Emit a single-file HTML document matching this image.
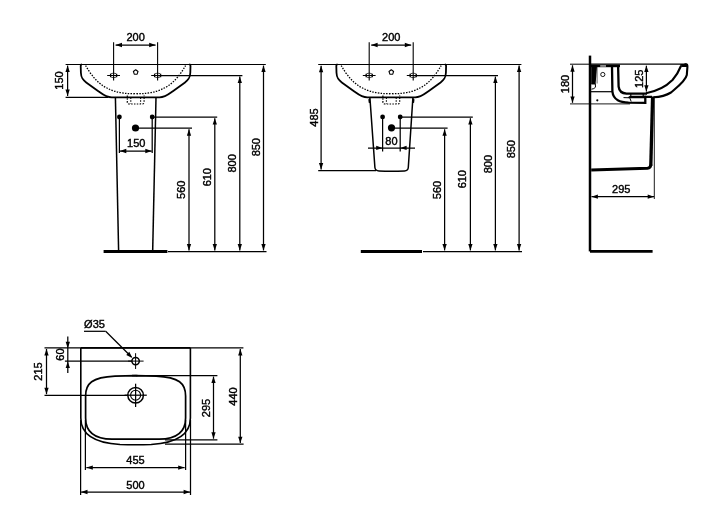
<!DOCTYPE html><html><head><meta charset="utf-8"><style>html,body{margin:0;padding:0;background:#fff;width:720px;height:529px;overflow:hidden}svg{display:block;will-change:transform}</style></head><body><svg width="720" height="529" viewBox="0 0 720 529">
<style>line,path,polygon,rect,circle,ellipse{stroke:#000;fill:none;stroke-linecap:butt}.f{fill:#000;stroke:none}.g{fill:#c8c8c8;stroke:none}.d{stroke-dasharray:1.5 1.3}text{font-family:"Liberation Sans",sans-serif;fill:#000;stroke:#000;stroke-width:0.4}</style>
<path d="M81.90,64.5 Q80.70,64.5 80.70,65.7 L80.90,72.8 C81.10,77.5 82.20,79.5 86.20,82.4 L98.70,91.5 C102.70,94.4 106.20,97.4 111.70,97.4 L159.50,97.4 C165.00,97.4 168.50,94.4 172.50,91.5 L185.00,82.4 C189.00,79.5 190.10,77.5 190.30,72.8 L190.50,65.7 Q190.50,64.5 189.30,64.5" stroke-width="1.8"/>
<path class="d" d="M85.60,65.6 C92.70,77 102.70,94.6 135.60,93.7 C168.50,94.6 178.50,77 185.60,65.6" stroke-width="1.3"/>
<path class="d" d="M127.30,95.5 L127.30,102 Q127.30,104 129.30,104 L142.10,104 Q144.10,104 144.10,102 L144.10,95.5" stroke-width="1.2"/>
<line class="d" x1="130.80" y1="97.5" x2="130.80" y2="103.5" stroke-width="1.1"/>
<line class="d" x1="140.60" y1="97.5" x2="140.60" y2="103.5" stroke-width="1.1"/>
<line x1="107.20" y1="75.50" x2="120.00" y2="75.50" stroke-width="1.0"/>
<line x1="113.60" y1="42.20" x2="113.60" y2="80.60" stroke-width="1.1"/>
<ellipse cx="113.60" cy="75.4" rx="3.3" ry="2.3" stroke-width="0.7"/>
<line x1="110.50" y1="73.70" x2="110.50" y2="77.20" stroke-width="1.1"/>
<line x1="116.70" y1="73.70" x2="116.70" y2="77.20" stroke-width="1.1"/>
<line x1="151.20" y1="75.50" x2="164.00" y2="75.50" stroke-width="1.0"/>
<line x1="157.60" y1="42.20" x2="157.60" y2="80.60" stroke-width="1.1"/>
<ellipse cx="157.60" cy="75.4" rx="3.3" ry="2.3" stroke-width="0.7"/>
<line x1="154.50" y1="73.70" x2="154.50" y2="77.20" stroke-width="1.1"/>
<line x1="160.70" y1="73.70" x2="160.70" y2="77.20" stroke-width="1.1"/>
<polygon points="135.70,69.75 138.03,71.44 137.14,74.18 134.26,74.18 133.37,71.44" stroke-width="1.1" stroke-linejoin="round"/>
<line x1="115.60" y1="45.00" x2="155.60" y2="45.00" stroke-width="1.25"/>
<polygon class="f" points="115.60,45.00 122.00,42.85 122.00,47.15"/>
<polygon class="f" points="155.60,45.00 149.20,47.15 149.20,42.85"/>
<text x="135.60" y="40.70" text-anchor="middle" font-size="11">200</text>
<line x1="65.60" y1="64.50" x2="265.80" y2="64.50" stroke-width="1.1"/>
<line x1="157.60" y1="75.50" x2="242.40" y2="75.50" stroke-width="1.25"/>
<line x1="152.20" y1="117.10" x2="217.20" y2="117.10" stroke-width="1.25"/>
<line x1="135.60" y1="128.20" x2="192.00" y2="128.20" stroke-width="1.25"/>
<line x1="189.00" y1="129.30" x2="189.00" y2="250.40" stroke-width="1.25"/>
<polygon class="f" points="189.00,129.30 191.15,135.70 186.85,135.70"/>
<polygon class="f" points="189.00,250.40 186.85,244.00 191.15,244.00"/>
<line x1="214.80" y1="118.20" x2="214.80" y2="250.40" stroke-width="1.25"/>
<polygon class="f" points="214.80,118.20 216.95,124.60 212.65,124.60"/>
<polygon class="f" points="214.80,250.40 212.65,244.00 216.95,244.00"/>
<line x1="239.80" y1="76.60" x2="239.80" y2="250.40" stroke-width="1.25"/>
<polygon class="f" points="239.80,76.60 241.95,83.00 237.65,83.00"/>
<polygon class="f" points="239.80,250.40 237.65,244.00 241.95,244.00"/>
<line x1="263.50" y1="65.60" x2="263.50" y2="250.40" stroke-width="1.25"/>
<polygon class="f" points="263.50,65.60 265.65,72.00 261.35,72.00"/>
<polygon class="f" points="263.50,250.40 261.35,244.00 265.65,244.00"/>
<text x="0" y="0" transform="translate(185.30,189.80) rotate(-90)" text-anchor="middle" font-size="11">560</text>
<text x="0" y="0" transform="translate(210.70,177.20) rotate(-90)" text-anchor="middle" font-size="11">610</text>
<text x="0" y="0" transform="translate(236.00,163.40) rotate(-90)" text-anchor="middle" font-size="11">800</text>
<text x="0" y="0" transform="translate(259.60,147.20) rotate(-90)" text-anchor="middle" font-size="11">850</text>
<line x1="65.60" y1="97.40" x2="108.00" y2="97.40" stroke-width="1.25"/>
<line x1="67.60" y1="65.60" x2="67.60" y2="96.00" stroke-width="1.25"/>
<polygon class="f" points="67.60,65.60 69.75,72.00 65.45,72.00"/>
<polygon class="f" points="67.60,96.00 65.45,89.60 69.75,89.60"/>
<text x="0" y="0" transform="translate(63.40,80.50) rotate(-90)" text-anchor="middle" font-size="11">150</text>
<path d="M115.4,97.5 L118.6,250" stroke-width="1.5"/>
<path d="M156,97.5 L152.7,250" stroke-width="1.5"/>
<line x1="103.6" y1="251.5" x2="167.4" y2="251.5" stroke-width="3" stroke-linecap="round"/>
<line x1="168.00" y1="251.50" x2="266.50" y2="251.50" stroke-width="1.25"/>
<circle class="f" cx="119.40" cy="117.00" r="2.4"/>
<circle class="f" cx="152.20" cy="117.00" r="2.4"/>
<circle class="f" cx="135.50" cy="128.00" r="3.6"/>
<line x1="119.40" y1="117.00" x2="119.40" y2="153.00" stroke-width="1.25"/>
<line x1="152.20" y1="117.00" x2="152.20" y2="153.00" stroke-width="1.25"/>
<line x1="119.90" y1="151.00" x2="151.70" y2="151.00" stroke-width="1.25"/>
<polygon class="f" points="119.90,151.00 126.30,148.85 126.30,153.15"/>
<polygon class="f" points="151.70,151.00 145.30,153.15 145.30,148.85"/>
<text x="136.30" y="146.70" text-anchor="middle" font-size="11">150</text>
<path d="M337.50,64.5 Q336.30,64.5 336.30,65.7 L336.50,72.8 C336.70,77.5 337.80,79.5 341.80,82.4 L354.30,91.5 C358.30,94.4 361.80,97.4 367.30,97.4 L415.10,97.4 C420.60,97.4 424.10,94.4 428.10,91.5 L440.60,82.4 C444.60,79.5 445.70,77.5 445.90,72.8 L446.10,65.7 Q446.10,64.5 444.90,64.5" stroke-width="1.8"/>
<path class="d" d="M341.20,65.6 C348.30,77 358.30,94.6 391.20,93.7 C424.10,94.6 434.10,77 441.20,65.6" stroke-width="1.3"/>
<path class="d" d="M382.90,95.5 L382.90,102 Q382.90,104 384.90,104 L397.70,104 Q399.70,104 399.70,102 L399.70,95.5" stroke-width="1.2"/>
<line class="d" x1="386.40" y1="97.5" x2="386.40" y2="103.5" stroke-width="1.1"/>
<line class="d" x1="396.20" y1="97.5" x2="396.20" y2="103.5" stroke-width="1.1"/>
<line x1="362.80" y1="75.50" x2="375.60" y2="75.50" stroke-width="1.0"/>
<line x1="369.20" y1="42.20" x2="369.20" y2="80.60" stroke-width="1.1"/>
<ellipse cx="369.20" cy="75.4" rx="3.3" ry="2.3" stroke-width="0.7"/>
<line x1="366.10" y1="73.70" x2="366.10" y2="77.20" stroke-width="1.1"/>
<line x1="372.30" y1="73.70" x2="372.30" y2="77.20" stroke-width="1.1"/>
<line x1="406.80" y1="75.50" x2="419.60" y2="75.50" stroke-width="1.0"/>
<line x1="413.20" y1="42.20" x2="413.20" y2="80.60" stroke-width="1.1"/>
<ellipse cx="413.20" cy="75.4" rx="3.3" ry="2.3" stroke-width="0.7"/>
<line x1="410.10" y1="73.70" x2="410.10" y2="77.20" stroke-width="1.1"/>
<line x1="416.30" y1="73.70" x2="416.30" y2="77.20" stroke-width="1.1"/>
<polygon points="391.30,69.75 393.63,71.44 392.74,74.18 389.86,74.18 388.97,71.44" stroke-width="1.1" stroke-linejoin="round"/>
<line x1="371.20" y1="45.00" x2="411.20" y2="45.00" stroke-width="1.25"/>
<polygon class="f" points="371.20,45.00 377.60,42.85 377.60,47.15"/>
<polygon class="f" points="411.20,45.00 404.80,47.15 404.80,42.85"/>
<text x="391.20" y="40.70" text-anchor="middle" font-size="11">200</text>
<line x1="318.20" y1="64.50" x2="521.40" y2="64.50" stroke-width="1.1"/>
<line x1="413.20" y1="75.50" x2="498.00" y2="75.50" stroke-width="1.25"/>
<line x1="400.20" y1="117.10" x2="472.80" y2="117.10" stroke-width="1.25"/>
<line x1="391.20" y1="128.20" x2="447.60" y2="128.20" stroke-width="1.25"/>
<line x1="444.60" y1="129.30" x2="444.60" y2="250.40" stroke-width="1.25"/>
<polygon class="f" points="444.60,129.30 446.75,135.70 442.45,135.70"/>
<polygon class="f" points="444.60,250.40 442.45,244.00 446.75,244.00"/>
<line x1="470.40" y1="118.20" x2="470.40" y2="250.40" stroke-width="1.25"/>
<polygon class="f" points="470.40,118.20 472.55,124.60 468.25,124.60"/>
<polygon class="f" points="470.40,250.40 468.25,244.00 472.55,244.00"/>
<line x1="495.40" y1="76.60" x2="495.40" y2="250.40" stroke-width="1.25"/>
<polygon class="f" points="495.40,76.60 497.55,83.00 493.25,83.00"/>
<polygon class="f" points="495.40,250.40 493.25,244.00 497.55,244.00"/>
<line x1="519.10" y1="65.60" x2="519.10" y2="250.40" stroke-width="1.25"/>
<polygon class="f" points="519.10,65.60 521.25,72.00 516.95,72.00"/>
<polygon class="f" points="519.10,250.40 516.95,244.00 521.25,244.00"/>
<text x="0" y="0" transform="translate(440.90,190.00) rotate(-90)" text-anchor="middle" font-size="11">560</text>
<text x="0" y="0" transform="translate(466.30,179.20) rotate(-90)" text-anchor="middle" font-size="11">610</text>
<text x="0" y="0" transform="translate(491.60,164.10) rotate(-90)" text-anchor="middle" font-size="11">800</text>
<text x="0" y="0" transform="translate(515.20,149.20) rotate(-90)" text-anchor="middle" font-size="11">850</text>
<line x1="318.20" y1="170.70" x2="376.00" y2="170.70" stroke-width="1.25"/>
<line x1="321.10" y1="65.80" x2="321.10" y2="169.50" stroke-width="1.25"/>
<polygon class="f" points="321.10,65.80 323.25,72.20 318.95,72.20"/>
<polygon class="f" points="321.10,169.50 318.95,163.10 323.25,163.10"/>
<text x="0" y="0" transform="translate(318.00,117.50) rotate(-90)" text-anchor="middle" font-size="11">485</text>
<path d="M369.9,97.5 L374.9,167.5 Q375.3,170.8 379,170.9 Q391,171.6 404.5,170.9 Q408,170.8 408.3,167.5 L412.9,97.5" stroke-width="1.5"/>
<polygon class="f" points="369.9,98 368.3,99.6 368.7,102.8 370.3,103.3"/>
<polygon class="f" points="412.9,98 414.5,99.6 414.1,102.8 412.5,103.3"/>
<circle class="f" cx="382.60" cy="116.90" r="2.4"/>
<circle class="f" cx="400.20" cy="116.90" r="2.4"/>
<circle class="f" cx="391.50" cy="127.80" r="3.6"/>
<line x1="382.60" y1="116.90" x2="382.60" y2="151.50" stroke-width="1.25"/>
<line x1="400.20" y1="116.90" x2="400.20" y2="151.50" stroke-width="1.25"/>
<line x1="368.00" y1="148.00" x2="415.00" y2="148.00" stroke-width="1.25"/>
<polygon class="f" points="382.60,147.90 376.20,150.05 376.20,145.75"/>
<polygon class="f" points="400.20,147.90 406.60,145.75 406.60,150.05"/>
<text x="391.40" y="144.50" text-anchor="middle" font-size="11">80</text>
<line x1="360.8" y1="251.5" x2="422" y2="251.5" stroke-width="3" stroke-linecap="round"/>
<line x1="423.00" y1="251.50" x2="522.00" y2="251.50" stroke-width="1.25"/>
<line x1="590.0" y1="55.6" x2="590.0" y2="251.4" stroke-width="2.5" stroke-linecap="round"/>
<line x1="590.0" y1="251.4" x2="652.6" y2="251.4" stroke-width="2.7" stroke-linecap="round"/>
<line x1="570.00" y1="64.20" x2="590.00" y2="64.20" stroke-width="1.0"/>
<line x1="570.00" y1="103.90" x2="630.00" y2="103.90" stroke-width="0.9"/>
<line x1="572.50" y1="65.30" x2="572.50" y2="102.80" stroke-width="1.25"/>
<polygon class="f" points="572.50,65.30 574.65,71.70 570.35,71.70"/>
<polygon class="f" points="572.50,102.80 570.35,96.40 574.65,96.40"/>
<text x="0" y="0" transform="translate(569.40,84.00) rotate(-90)" text-anchor="middle" font-size="11">180</text>
<line x1="591.00" y1="64.20" x2="686.50" y2="64.20" stroke-width="1.2"/>
<rect class="f" x="591" y="64.6" width="29" height="2.6"/>
<rect class="g" x="600.2" y="65.3" width="5.8" height="1.3"/>
<polygon class="f" points="591.2,66.5 597.0,66.5 595.6,84.2 591.2,84.2"/>
<path d="M591.5,83.8 L595.3,83.8 L595.5,87.2 L593.8,88.6 L591.5,89.2" stroke-width="1.0"/>
<line x1="597.10" y1="67.00" x2="597.10" y2="83.50" stroke-width="0.6"/>
<circle cx="602.8" cy="74.5" r="2.1" stroke-width="0.9"/>
<line x1="591.00" y1="91.70" x2="612.00" y2="91.70" stroke-width="1.2"/>
<circle class="f" cx="597.30" cy="100.30" r="1.1"/>
<path d="M612.0,66 L612.4,91.5 Q613,97.5 617.8,100.2 Q621.5,102.3 628.5,102.6 L645.3,102.8 L645.3,96.8 L652,96.8" stroke-width="2.3"/>
<path d="M618.1,66 L618.6,86.5 Q619.4,93.2 626.5,93.6 L647,93.6" stroke-width="2.3"/>
<polygon class="f" points="627.5,97.6 630,95.8 646,95.8 646,98.3 630,98.3"/>
<line x1="629.80" y1="98.00" x2="631.20" y2="101.50" stroke-width="1.0"/>
<line x1="630.80" y1="93.50" x2="630.80" y2="96.50" stroke-width="1.2"/>
<line x1="643.20" y1="93.50" x2="643.20" y2="96.50" stroke-width="1.2"/>
<path d="M623.5,97.6 L629.5,97.8" stroke-width="1.0"/>
<path d="M684.5,64.3 L686,64.3 Q687.6,64.5 687.4,67 L686.8,75 C685.5,81 678,86.5 671,92.5 Q664,96.8 653.5,97.3" stroke-width="2.1"/>
<path d="M681.2,65.5 C679,71 676.5,75.5 672.5,80 C667,85.5 658,91 646,93.2" stroke-width="2.1"/>
<polygon class="f" points="680,64 686.5,64 687.6,65.5 687.4,67 682.2,67"/>
<line x1="652.60" y1="96.50" x2="650.80" y2="166.00" stroke-width="3.3"/>
<path d="M650.8,164.5 Q650.6,168 647.5,168.2 L591.2,169.9" stroke-width="3.0"/>
<line x1="654.30" y1="96.50" x2="654.30" y2="199.00" stroke-width="0.9"/>
<line x1="591.50" y1="196.70" x2="654.10" y2="196.70" stroke-width="1.25"/>
<polygon class="f" points="591.50,196.70 597.90,194.55 597.90,198.85"/>
<polygon class="f" points="654.10,196.70 647.70,198.85 647.70,194.55"/>
<text x="621.20" y="192.80" text-anchor="middle" font-size="11">295</text>
<line x1="646.40" y1="65.70" x2="646.40" y2="91.60" stroke-width="1.25"/>
<polygon class="f" points="646.40,65.70 648.55,72.10 644.25,72.10"/>
<polygon class="f" points="646.40,91.60 644.25,85.20 648.55,85.20"/>
<text x="0" y="0" transform="translate(642.80,78.80) rotate(-90)" text-anchor="middle" font-size="11">125</text>
<line x1="44.50" y1="347.90" x2="243.40" y2="347.90" stroke-width="1.25"/>
<path d="M80.8,347.9 L190.4,347.9" stroke-width="1.6"/>
<path d="M80.8,347.9 L80.8,418 C80.8,435 95,443 120,444.5 Q135.6,445 151.2,444.5 C176.2,443 190.4,435 190.4,418 L190.4,347.9" stroke-width="1.6"/>
<line x1="80.60" y1="420.00" x2="80.60" y2="495.00" stroke-width="1.25"/>
<line x1="190.50" y1="420.00" x2="190.50" y2="495.00" stroke-width="1.25"/>
<path d="M135.6,375.6 L115,376.1 C92,377.2 85.6,383.5 85.6,396 L85.6,418 C85.6,432 95,439 112,439.2 L159.2,439.2 C176.2,439 185.6,432 185.6,418 L185.6,396 C185.6,383.5 179.2,377.2 156.2,376.1 Z" stroke-width="1.7"/>
<rect class="f" x="132" y="374.8" width="5.5" height="1.5"/>
<line x1="85.40" y1="420.00" x2="85.40" y2="470.00" stroke-width="1.25"/>
<line x1="185.60" y1="420.00" x2="185.60" y2="470.00" stroke-width="1.25"/>
<line x1="86.40" y1="467.60" x2="184.60" y2="467.60" stroke-width="1.25"/>
<polygon class="f" points="86.40,467.60 92.80,465.45 92.80,469.75"/>
<polygon class="f" points="184.60,467.60 178.20,469.75 178.20,465.45"/>
<text x="135.50" y="464.20" text-anchor="middle" font-size="11">455</text>
<line x1="81.10" y1="492.00" x2="190.00" y2="492.00" stroke-width="1.25"/>
<polygon class="f" points="81.10,492.00 87.50,489.85 87.50,494.15"/>
<polygon class="f" points="190.00,492.00 183.60,494.15 183.60,489.85"/>
<text x="135.50" y="488.70" text-anchor="middle" font-size="11">500</text>
<circle cx="135.6" cy="361.1" r="3.7" stroke-width="1.5"/>
<line x1="128.10" y1="361.10" x2="143.60" y2="361.10" stroke-width="1.0"/>
<line x1="135.60" y1="353.20" x2="135.60" y2="369.00" stroke-width="1.0"/>
<circle cx="135.6" cy="395.2" r="7.8" stroke-width="1.5"/>
<circle cx="135.6" cy="395.2" r="5.0" stroke-width="1.1"/>
<line x1="124.60" y1="395.20" x2="146.80" y2="395.20" stroke-width="1.25"/>
<line x1="135.60" y1="383.70" x2="135.60" y2="407.00" stroke-width="1.25"/>
<line x1="64.90" y1="361.20" x2="132.00" y2="361.20" stroke-width="1.25"/>
<line x1="44.50" y1="395.30" x2="128.00" y2="395.30" stroke-width="1.25"/>
<line x1="46.50" y1="349.00" x2="46.50" y2="394.20" stroke-width="1.25"/>
<polygon class="f" points="46.50,349.00 48.65,355.40 44.35,355.40"/>
<polygon class="f" points="46.50,394.20 44.35,387.80 48.65,387.80"/>
<text x="0" y="0" transform="translate(42.40,371.50) rotate(-90)" text-anchor="middle" font-size="11">215</text>
<line x1="67.80" y1="336.40" x2="67.80" y2="373.00" stroke-width="1.25"/>
<polygon class="f" points="67.80,348.20 65.65,341.80 69.95,341.80"/>
<polygon class="f" points="67.80,361.60 69.95,368.00 65.65,368.00"/>
<text x="0" y="0" transform="translate(63.80,354.50) rotate(-90)" text-anchor="middle" font-size="11">60</text>
<text x="94.50" y="328.00" text-anchor="middle" font-size="11">Ø35</text>
<line x1="84.00" y1="331.30" x2="105.70" y2="331.30" stroke-width="1.25"/>
<line x1="105.70" y1="331.30" x2="131.50" y2="357.00" stroke-width="1.25"/>
<polygon class="f" points="132.30,357.90 126.25,354.89 129.29,351.85"/>
<line x1="136.00" y1="375.50" x2="217.40" y2="375.50" stroke-width="1.25"/>
<line x1="165.00" y1="439.80" x2="217.40" y2="439.80" stroke-width="1.25"/>
<line x1="213.50" y1="376.60" x2="213.50" y2="438.70" stroke-width="1.25"/>
<polygon class="f" points="213.50,376.60 215.65,383.00 211.35,383.00"/>
<polygon class="f" points="213.50,438.70 211.35,432.30 215.65,432.30"/>
<text x="0" y="0" transform="translate(209.60,408.00) rotate(-90)" text-anchor="middle" font-size="11">295</text>
<line x1="165.00" y1="444.20" x2="243.60" y2="444.20" stroke-width="1.25"/>
<line x1="240.30" y1="349.00" x2="240.30" y2="443.10" stroke-width="1.25"/>
<polygon class="f" points="240.30,349.00 242.45,355.40 238.15,355.40"/>
<polygon class="f" points="240.30,443.10 238.15,436.70 242.45,436.70"/>
<text x="0" y="0" transform="translate(236.60,396.50) rotate(-90)" text-anchor="middle" font-size="11">440</text>
</svg></body></html>
